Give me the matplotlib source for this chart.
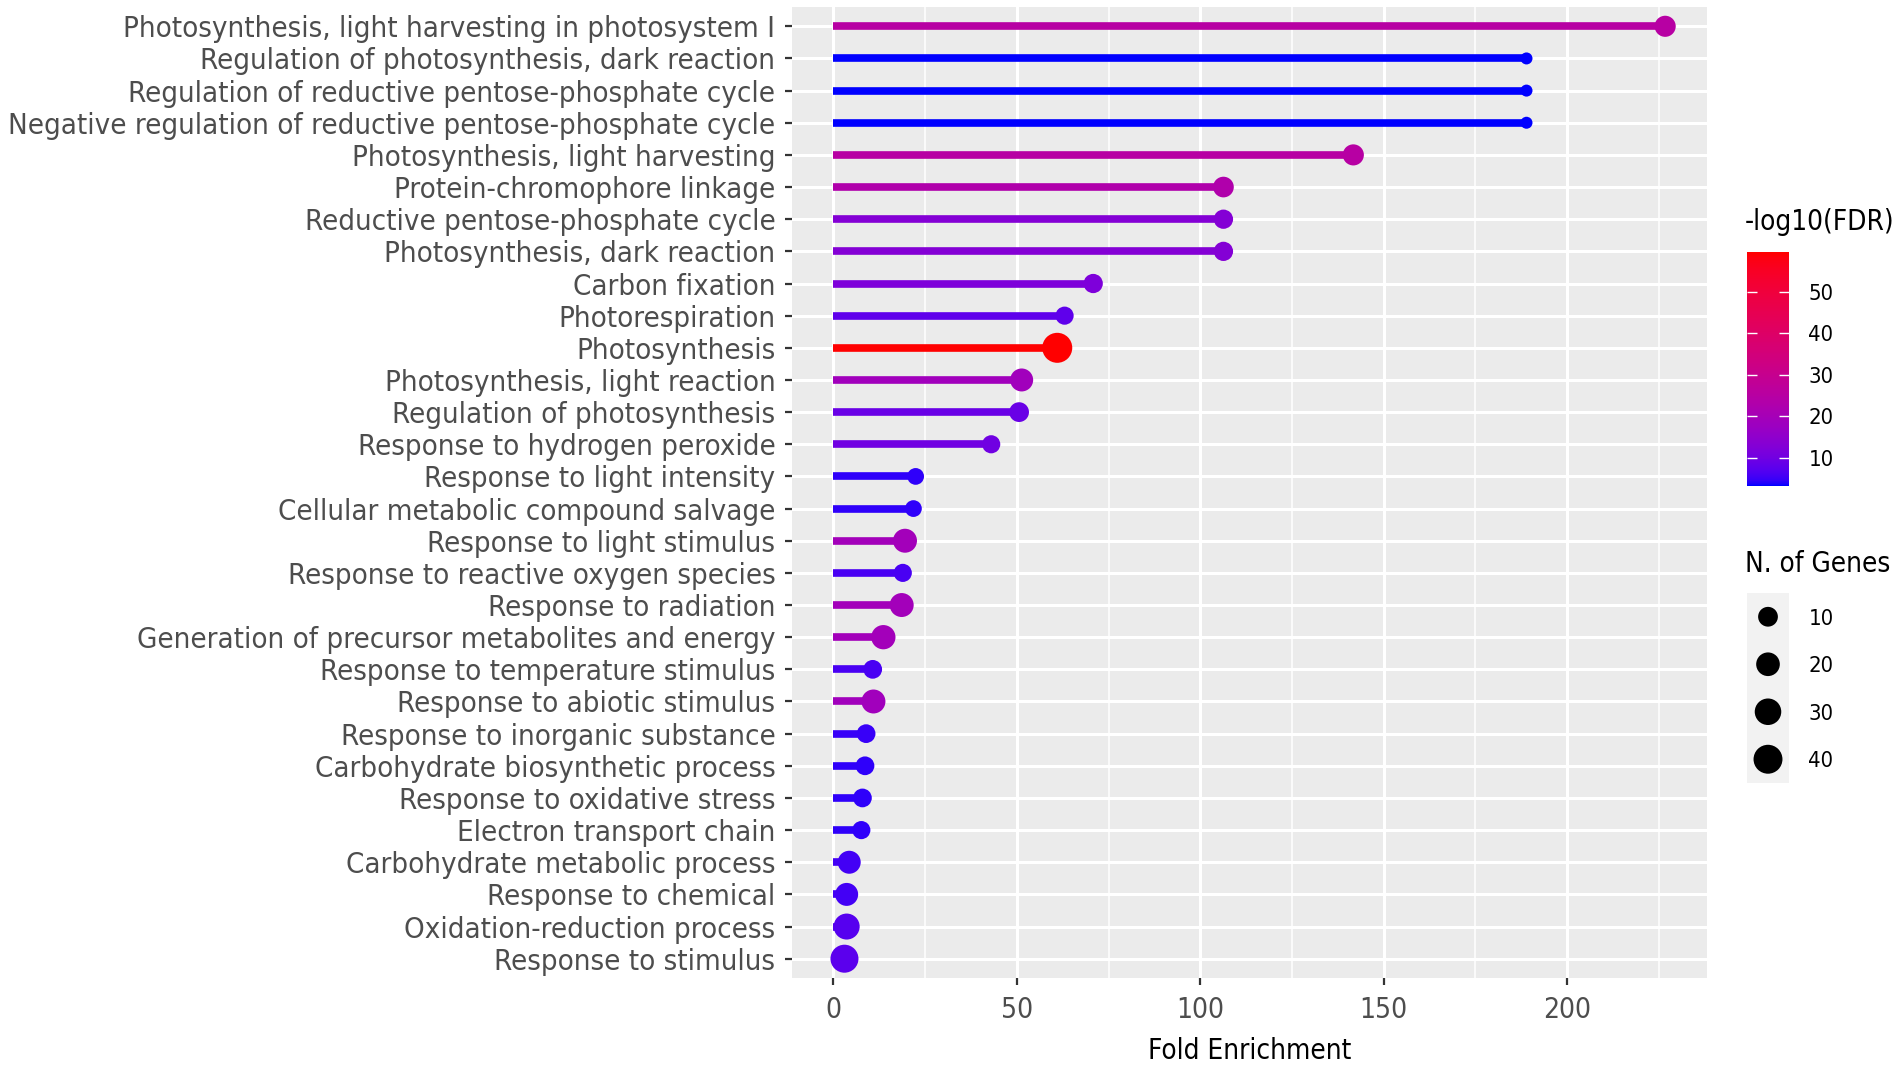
import numpy as np
import matplotlib
matplotlib.use("Agg")
import matplotlib.pyplot as plt
from matplotlib.colors import ListedColormap, Normalize
from matplotlib.cm import ScalarMappable

# a narrow face is preferred (the original is drawn in a condensed sans)
plt.rcParams['font.family'] = ['Liberation Sans Narrow', 'DejaVu Sans']
plt.rcParams['font.stretch'] = 'condensed'

# ==========================
# Data
# ==========================
pathways = [
    "Photosynthesis, light harvesting in photosystem I",
    "Regulation of photosynthesis, dark reaction",
    "Regulation of reductive pentose-phosphate cycle",
    "Negative regulation of reductive pentose-phosphate cycle",
    "Photosynthesis, light harvesting",
    "Protein-chromophore linkage",
    "Reductive pentose-phosphate cycle",
    "Photosynthesis, dark reaction",
    "Carbon fixation",
    "Photorespiration",
    "Photosynthesis",
    "Photosynthesis, light reaction",
    "Regulation of photosynthesis",
    "Response to hydrogen peroxide",
    "Response to light intensity",
    "Cellular metabolic compound salvage",
    "Response to light stimulus",
    "Response to reactive oxygen species",
    "Response to radiation",
    "Generation of precursor metabolites and energy",
    "Response to temperature stimulus",
    "Response to abiotic stimulus",
    "Response to inorganic substance",
    "Carbohydrate biosynthetic process",
    "Response to oxidative stress",
    "Electron transport chain",
    "Carbohydrate metabolic process",
    "Response to chemical",
    "Oxidation-reduction process",
    "Response to stimulus",
]

fold_enrichment = [226.7, 188.9, 188.9, 188.9, 141.7, 106.3, 106.3, 106.3, 70.8, 63.0,
                   61.0, 51.3, 50.6, 43.0, 22.4, 21.8, 19.5, 18.9, 18.6, 13.6,
                   10.7, 10.9, 8.9, 8.6, 7.9, 7.6, 4.3, 3.6, 3.6, 3.0]

neg_log10_fdr = [25, 3.25, 3.25, 3.25, 25, 23, 13, 13, 12, 8,
                 59.6, 19, 9, 10, 4.5, 4.5, 19.5, 6, 19.5, 19.5,
                 6, 19, 5, 4.5, 4.5, 4.5, 5.5, 5.5, 7, 7.5]

n_genes = [13, 2, 2, 2, 13, 12, 9, 9, 9, 7,
           45, 18, 10, 7, 5, 5, 21, 7, 21, 22,
           8, 21, 8, 8, 8, 7, 18, 18, 28, 36]

x_ticks = [0, 50, 100, 150, 200]
fdr_breaks = [10, 20, 30, 40, 50]
size_breaks = [10, 20, 30, 40]


# ==========================
# Colour scale: blue -> red interpolated in CIE Lab (like ggplot)
# ==========================
def srgb_to_lab(rgb):
    c = np.asarray(rgb, dtype=float)
    lin = np.where(c <= 0.04045, c / 12.92, ((c + 0.055) / 1.055) ** 2.4)
    m = np.array([[0.4124, 0.3576, 0.1805],
                  [0.2126, 0.7152, 0.0722],
                  [0.0193, 0.1192, 0.9505]])
    xyz = m @ lin / np.array([0.95047, 1.0, 1.08883])
    d = 6 / 29
    f = np.where(xyz > d ** 3, np.cbrt(xyz), xyz / (3 * d * d) + 4 / 29)
    return np.array([116 * f[1] - 16, 500 * (f[0] - f[1]), 200 * (f[1] - f[2])])


def lab_to_srgb(lab):
    L, a, b = lab
    fy = (L + 16) / 116
    fx = fy + a / 500
    fz = fy - b / 200
    d = 6 / 29
    f = np.array([fx, fy, fz])
    xyz = np.where(f > d, f ** 3, 3 * d * d * (f - 4 / 29)) * np.array([0.95047, 1.0, 1.08883])
    mi = np.array([[3.2406, -1.5372, -0.4986],
                   [-0.9689, 1.8758, 0.0415],
                   [0.0557, -0.2040, 1.0570]])
    lin = np.clip(mi @ xyz, 0, 1)
    c = np.where(lin <= 0.0031308, 12.92 * lin, 1.055 * lin ** (1 / 2.4) - 0.055)
    return np.clip(c, 0, 1)


lab_lo = srgb_to_lab([0, 0, 1])
lab_hi = srgb_to_lab([1, 0, 0])
cmap = ListedColormap([lab_to_srgb(lab_lo + t * (lab_hi - lab_lo)) for t in np.linspace(0, 1, 256)])
norm = Normalize(vmin=min(neg_log10_fdr), vmax=max(neg_log10_fdr))


# size scale: diameter linear in sqrt of the rescaled count (ggplot area scale)
def dot_size(n):
    n = np.asarray(n, dtype=float)
    lo, hi = min(n_genes), max(n_genes)
    d_px = 12 + 18 * np.sqrt((n - lo) / (hi - lo))
    return (d_px * 0.72) ** 2


# ==========================
# Figure
# ==========================
fig = plt.figure(figsize=(19.02, 10.69), dpi=100)
renderer = fig.canvas.get_renderer()


def fit_size(s, width_px, cap):
    # font size giving the text the width it has in the original
    t = fig.text(0, 0, s, fontsize=20)
    w = t.get_window_extent(renderer).width
    t.remove()
    return min(cap, 20 * width_px / w)


y_size = fit_size(max(pathways, key=len), 763, 24)
x_size = fit_size("200", 48, 22)
title_size = fit_size("-log10(FDR)", 150, 20)
key_size = fit_size("50", 25, 16)

ax = fig.add_axes([792 / 1902, 1 - 978 / 1069, (1707 - 792) / 1902, (978 - 7) / 1069])
ax.set_facecolor('#EBEBEB')

n = len(pathways)
y = np.arange(n)[::-1]
colors = cmap(norm(neg_log10_fdr))

ax.hlines(y, 0, fold_enrichment, colors=colors, lw=5.5, zorder=3)
ax.scatter(fold_enrichment, y, s=dot_size(n_genes), c=colors, edgecolors='none', zorder=4)

ax.set_xlim(-11.3, 238.1)
ax.set_ylim(-0.6, n - 1 + 0.6)
ax.set_xticks(x_ticks)
ax.set_xticks([25, 75, 125, 175, 225], minor=True)
ax.set_yticks(y)
ax.set_yticklabels(pathways)
ax.grid(which='major', color='white', lw=2.2, zorder=0)
ax.grid(which='minor', axis='x', color='white', lw=1.1, zorder=0)
ax.set_axisbelow(True)
for s in ax.spines.values():
    s.set_visible(False)
ax.tick_params(axis='both', which='major', length=5, width=1.6, color='#333333',
               labelcolor='#4D4D4D')
ax.tick_params(axis='y', labelsize=y_size, pad=7)
ax.tick_params(axis='x', labelsize=x_size, pad=8)
ax.tick_params(which='minor', length=0)
ax.set_xlabel("Fold Enrichment", fontsize=title_size, color='black', labelpad=9)

# colour bar legend
cax = fig.add_axes([1747 / 1902, 1 - 486 / 1069, 42 / 1902, 234 / 1069])
cb = fig.colorbar(ScalarMappable(norm=norm, cmap=cmap), cax=cax)
cb.outline.set_visible(False)
cb.set_ticks(fdr_breaks)
cax.yaxis.set_ticks_position('both')
cax.tick_params(axis='y', direction='in', length=7, width=1, color='white',
                labelsize=key_size, labelcolor='black', pad=14, labelleft=False, labelright=True)
fig.text(1745 / 1902, 1 - 222 / 1069, "-log10(FDR)", fontsize=title_size, va='center', ha='left')

# size legend
fig.text(1745 / 1902, 1 - 564 / 1069, "N. of Genes", fontsize=title_size, va='center', ha='left')
lax = fig.add_axes([1747 / 1902, 1 - 783 / 1069, 42 / 1902, 190 / 1069])
lax.set_facecolor('#F2F2F2')
lax.set_xlim(0, 1)
lax.set_ylim(0, 4)
key_y = np.arange(len(size_breaks))[::-1] + 0.5
lax.scatter([0.5] * len(size_breaks), key_y, s=dot_size(size_breaks), c='black', edgecolors='none')
for s in lax.spines.values():
    s.set_visible(False)
lax.set_xticks([])
lax.set_yticks(key_y)
lax.set_yticklabels([str(b) for b in size_breaks])
lax.yaxis.tick_right()
lax.tick_params(axis='y', length=0, labelsize=key_size, pad=14)

fig.savefig("out.png", dpi=100)
